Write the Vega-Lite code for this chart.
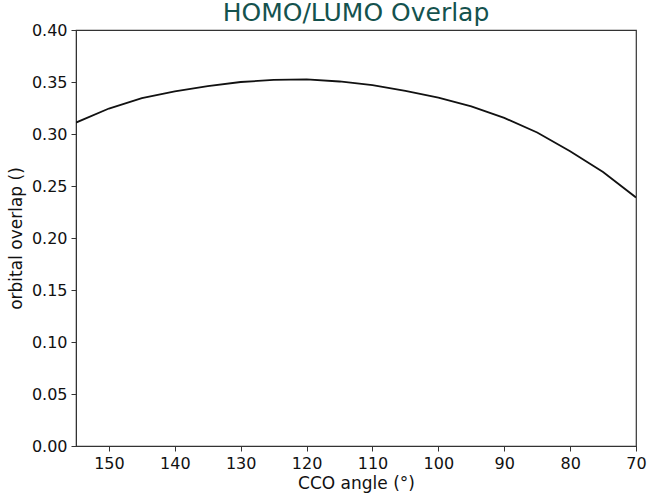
{
  "$schema": "https://vega.github.io/schema/vega-lite/v6.json",
  "width": 560,
  "height": 416,
  "autosize": {"type": "none"},
  "padding": {"left": 76, "top": 30, "right": 16, "bottom": 55},
  "background": "white",
  "title": {
    "text": "HOMO/LUMO Overlap",
    "font": "DejaVu Sans",
    "fontSize": 25,
    "fontWeight": "normal",
    "color": "#14524e",
    "anchor": "middle",
    "frame": "group",
    "offset": 3,
    "dy": 7
  },
  "config": {
    "view": {"stroke": "#333333", "strokeWidth": 1.2},
    "axis": {
      "labelFont": "DejaVu Sans",
      "labelFontSize": 16,
      "labelColor": "#111111",
      "titleFont": "DejaVu Sans",
      "titleFontSize": 17,
      "titleFontWeight": "normal",
      "titleColor": "#111111",
      "domainColor": "#333333",
      "tickColor": "#333333",
      "tickSize": 5,
      "grid": false
    }
  },
  "data": {
    "values": [
      {"angle": 155, "overlap": 0.311},
      {"angle": 150, "overlap": 0.3245},
      {"angle": 145, "overlap": 0.3345},
      {"angle": 140, "overlap": 0.341},
      {"angle": 135, "overlap": 0.346},
      {"angle": 130, "overlap": 0.3500},
      {"angle": 125, "overlap": 0.352},
      {"angle": 120, "overlap": 0.3525},
      {"angle": 115, "overlap": 0.3505},
      {"angle": 110, "overlap": 0.347},
      {"angle": 105, "overlap": 0.3415},
      {"angle": 100, "overlap": 0.335},
      {"angle": 95, "overlap": 0.3265},
      {"angle": 90, "overlap": 0.3155},
      {"angle": 85, "overlap": 0.3015},
      {"angle": 80, "overlap": 0.2835},
      {"angle": 75, "overlap": 0.2635},
      {"angle": 70, "overlap": 0.239}
    ]
  },
  "mark": {"type": "line", "color": "#111111", "strokeWidth": 1.8, "clip": true},
  "encoding": {
    "x": {
      "field": "angle",
      "type": "quantitative",
      "title": "CCO angle (°)",
      "scale": {"domain": [70, 155], "reverse": true, "nice": false, "zero": false},
      "axis": {"values": [150, 140, 130, 120, 110, 100, 90, 80, 70], "labelPadding": 4, "titlePadding": 4, "labelFlush": false}
    },
    "y": {
      "field": "overlap",
      "type": "quantitative",
      "title": "orbital overlap ()",
      "scale": {"domain": [0, 0.4], "nice": false},
      "axis": {"values": [0, 0.05, 0.1, 0.15, 0.2, 0.25, 0.3, 0.35, 0.4], "format": ".2f", "labelPadding": 4, "titlePadding": 6, "labelFlush": false}
    }
  }
}
